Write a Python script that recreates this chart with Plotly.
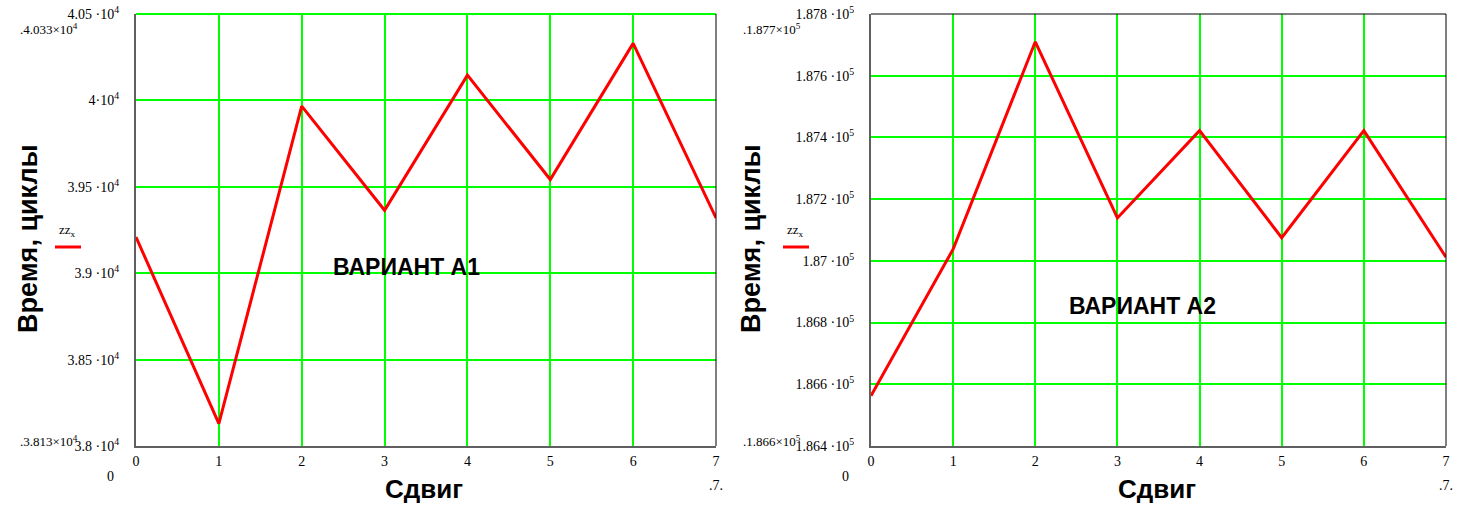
""" Two Mathcad-style line plots: time in cycles vs shift, variants A1 and A2. """

import plotly.graph_objects as go

W, H = 1466, 514

# shift values (x axis)
shift = [0, 1, 2, 3, 4, 5, 6, 7]

# variant A1, time in cycles
time_a1 = [39209, 38130, 39967, 39364, 40146, 39542, 40330, 39320]
# variant A2, time in cycles
time_a2 = [186563, 187038, 187710, 187139, 187422, 187075, 187422, 187012]

# y ticks
ticks_a1 = [38000, 38500, 39000, 39500, 40000, 40500]
labels_a1 = ['3.8 ·10<sup>4</sup>', '3.85 ·10<sup>4</sup>', '3.9 ·10<sup>4</sup>',
             '3.95 ·10<sup>4</sup>', '4·10<sup>4</sup>', '4.05 ·10<sup>4</sup>']
ticks_a2 = [186400, 186600, 186800, 187000, 187200, 187400, 187600, 187800]
labels_a2 = ['1.864 ·10<sup>5</sup>', '1.866 ·10<sup>5</sup>', '1.868 ·10<sup>5</sup>',
             '1.87 ·10<sup>5</sup>', '1.872 ·10<sup>5</sup>', '1.874 ·10<sup>5</sup>',
             '1.876 ·10<sup>5</sup>', '1.878 ·10<sup>5</sup>']

GREEN = '#00ff00'
RED = '#ff0000'
SERIF = 'Liberation Serif'
SANS = 'Liberation Sans'


def px(x, y):
        # pixel position -> paper coordinates
        return x / W, 1 - y / H


def plot_box(x0, x1, y0=14, y1=446):
        a, top = px(x0, y0)
        b, bottom = px(x1, y1)
        return [a, b], [bottom, top]


dom_x1, dom_y = plot_box(136, 716)
dom_x2, _ = plot_box(871, 1446)

fig = go.Figure()
fig.add_trace(go.Scatter(x=shift, y=time_a1, mode='lines',
                         line=dict(color=RED, width=3), xaxis='x', yaxis='y',
                         showlegend=False))
fig.add_trace(go.Scatter(x=shift, y=time_a2, mode='lines',
                         line=dict(color=RED, width=3), xaxis='x2', yaxis='y2',
                         showlegend=False))

xax = dict(range=[0, 7], tickvals=shift, ticktext=[str(s) for s in shift],
           showgrid=True, gridcolor=GREEN, gridwidth=1.5, zeroline=False,
           showline=True, linecolor='#606060', linewidth=2, automargin=False,
           ticks='outside', ticklen=1, tickcolor='rgba(0,0,0,0)',
           tickfont=dict(family=SERIF, size=14, color='black'))
yax = dict(showgrid=True, gridcolor=GREEN, gridwidth=1.5, zeroline=False,
           showline=True, linecolor='#606060', linewidth=2, automargin=False,
           ticks='outside', ticklen=12, tickcolor='rgba(0,0,0,0)',
           tickfont=dict(family=SERIF, size=14, color='black'))

fig.update_layout(
        width=W, height=H, template='none',
        margin=dict(l=0, r=0, t=0, b=0, pad=0),
        paper_bgcolor='white', plot_bgcolor='white',
        xaxis=dict(xax, domain=dom_x1, anchor='y'),
        yaxis=dict(yax, domain=dom_y, anchor='x', range=[38000, 40500],
                   tickvals=ticks_a1, ticktext=labels_a1),
        xaxis2=dict(xax, domain=dom_x2, anchor='y2'),
        yaxis2=dict(yax, domain=dom_y, anchor='x2', range=[186400, 187800],
                    tickvals=ticks_a2, ticktext=labels_a2),
)

# top / right frame lines
for dx, top_color in ((dom_x1, GREEN), (dom_x2, 'black')):
        fig.add_shape(type='line', xref='paper', yref='paper', layer='above',
                      x0=dx[0], x1=dx[1], y0=dom_y[1], y1=dom_y[1],
                      line=dict(color=top_color, width=2 if top_color == GREEN else 1))
        fig.add_shape(type='line', xref='paper', yref='paper', layer='above',
                      x0=dx[1], x1=dx[1], y0=dom_y[0], y1=dom_y[1],
                      line=dict(color='black', width=1))

notes = []


def note(x, y, text, size=14, family=SERIF, bold=False, angle=0, xanchor='center'):
        ax, ay = px(x, y)
        if bold:
                text = '<b>' + text + '</b>'
        notes.append(dict(x=ax, y=ay, xref='paper', yref='paper', text=text,
                          showarrow=False, textangle=angle, xanchor=xanchor,
                          yanchor='middle',
                          font=dict(family=family, size=size, color='black')))


# per-panel decorations: axis titles, legend sample, limit labels
panels = [
        dict(left=136, right=716, title_x=28, leg_x=55, ylim_top='4.033×10<sup>4</sup>',
             ylim_bot='3.813×10<sup>4</sup>', lim_x=80),
        dict(left=871, right=1446, title_x=751, leg_x=783, ylim_top='1.877×10<sup>5</sup>',
             ylim_bot='1.866×10<sup>5</sup>', lim_x=803),
]
for p in panels:
        note(p['title_x'], 239, 'Время, циклы', size=27, family=SANS, bold=True, angle=-90)
        note((p['left'] + p['right']) / 2 - 2, 489, 'Сдвиг', size=26, family=SANS, bold=True)
        note(p['leg_x'] + 2, 231, 'zz<sub>x</sub>', size=13, xanchor='left')
        lx0, ly = px(p['leg_x'], 247)
        lx1, _ = px(p['leg_x'] + 26, 247)
        fig.add_shape(type='line', xref='paper', yref='paper', x0=lx0, x1=lx1,
                      y0=ly, y1=ly, line=dict(color=RED, width=3))
        note(p['lim_x'], 29, '.' + p['ylim_top'], size=13, xanchor='right')
        note(p['lim_x'], 441, '.' + p['ylim_bot'], size=13, xanchor='right')
        note(p['left'] - 26, 476, '0')
        note(p['right'], 485, '.7.')

fig.update_layout(annotations=notes)

# variant labels in data coordinates
fig.add_annotation(x=3.26, y=39036, xref='x', yref='y', text='<b>ВАРИАНТ А1</b>',
                   showarrow=False, font=dict(family=SANS, size=23, color='black'))
fig.add_annotation(x=3.31, y=186854, xref='x2', yref='y2', text='<b>ВАРИАНТ А2</b>',
                   showarrow=False, font=dict(family=SANS, size=23, color='black'))

fig.write_html('out.html', config={'displayModeBar': False},
               post_script="document.body.style.margin='0';")
